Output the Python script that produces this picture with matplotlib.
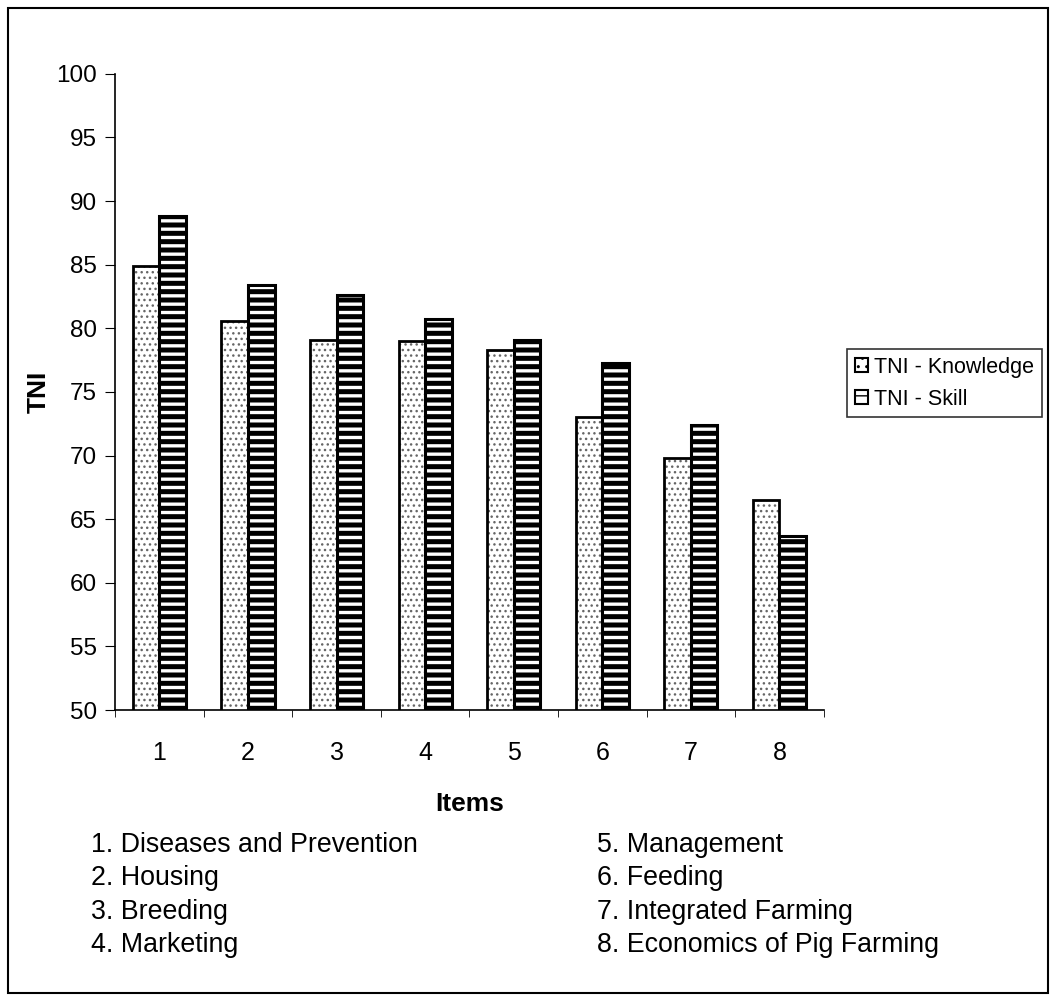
import numpy as np
import matplotlib
matplotlib.use("Agg")
import matplotlib.pyplot as plt
from matplotlib.patches import Rectangle, Patch

plt.rcParams["font.family"] = ["Liberation Sans", "DejaVu Sans"]

# 数据
items = ["1", "2", "3", "4", "5", "6", "7", "8"]
knowledge = [84.9, 80.6, 79.1, 79.0, 78.3, 73.0, 69.8, 66.5]
skill = [88.8, 83.4, 82.6, 80.7, 79.1, 77.3, 72.4, 63.7]
series_names = ["TNI - Knowledge", "TNI - Skill"]
item_names_left = ["1. Diseases and Prevention", "2. Housing",
                   "3. Breeding", "4. Marketing"]
item_names_right = ["5. Management", "6. Feeding",
                    "7. Integrated Farming", "8. Economics of Pig Farming"]

fig = plt.figure(figsize=(10.56, 10.02), dpi=100)
ax = fig.add_axes([0.109, 0.2914, 0.671, 0.635])

x = np.arange(len(items))
w = 0.3

# 知识：浅色点状填充
with plt.rc_context({"hatch.linewidth": 1.0}):
    ax.bar(x - w / 2, knowledge, w, facecolor="white",
           edgecolor="0.4", linewidth=0, hatch="...")
# 技能：黑底白条纹
with plt.rc_context({"hatch.linewidth": 2.4}):
    ax.bar(x + w / 2, skill, w, facecolor="black", edgecolor="white",
           linewidth=0, hatch="--")
# 黑色边框
ax.bar(x - w / 2, knowledge, w, facecolor="none", edgecolor="black",
       linewidth=2.0)
ax.bar(x + w / 2, skill, w, facecolor="none", edgecolor="black",
       linewidth=2.2)

ax.set_ylim(50, 100)
ax.set_xlim(-0.5, len(items) - 0.5)
ax.set_yticks(np.arange(50, 101, 5))
ax.set_xticks(x)
ax.set_xticklabels(items)
ax.set_xticks(np.arange(-0.5, len(items), 1.0), minor=True)
ax.tick_params(axis="x", which="major", length=0, pad=22, labelsize=18)
ax.tick_params(axis="x", which="minor", length=5, direction="out")
ax.tick_params(axis="y", length=7, direction="out", labelsize=17.5, pad=6)

for s in ("top", "right"):
    ax.spines[s].set_visible(False)
for s in ("left", "bottom"):
    ax.spines[s].set_linewidth(1.2)

ax.set_xlabel("Items", fontsize=19, fontweight="bold", labelpad=20)
ax.set_ylabel("TNI", fontsize=19, fontweight="bold", labelpad=4)

# 图例
with plt.rc_context({"hatch.linewidth": 1.0}):
    h1 = Patch(facecolor="white", edgecolor="black", linewidth=1.5,
               hatch="..")
with plt.rc_context({"hatch.linewidth": 1.5}):
    h2 = Patch(facecolor="white", edgecolor="black", linewidth=1.5,
               hatch="--")
leg = ax.legend([h1, h2], series_names, loc="upper left",
                bbox_to_anchor=(1.033, 0.567), fontsize=15.5,
                frameon=True, fancybox=False, edgecolor="black",
                handlelength=0.6, handleheight=0.6, handletextpad=0.3,
                borderpad=0.35, labelspacing=0.5, borderaxespad=0)
leg.get_frame().set_linewidth(1.2)

# 项目说明
for i, t in enumerate(item_names_left):
    fig.text(0.086, 0.157 - i * 0.0335, t, fontsize=19.3, va="center")
for i, t in enumerate(item_names_right):
    fig.text(0.565, 0.157 - i * 0.0335, t, fontsize=19.3, va="center")

# 外框
fig.patches.append(Rectangle((0.008, 0.009), 0.984, 0.983, fill=False,
                             edgecolor="black", linewidth=1.5,
                             transform=fig.transFigure, figure=fig))

fig.savefig("out.png", dpi=100)
